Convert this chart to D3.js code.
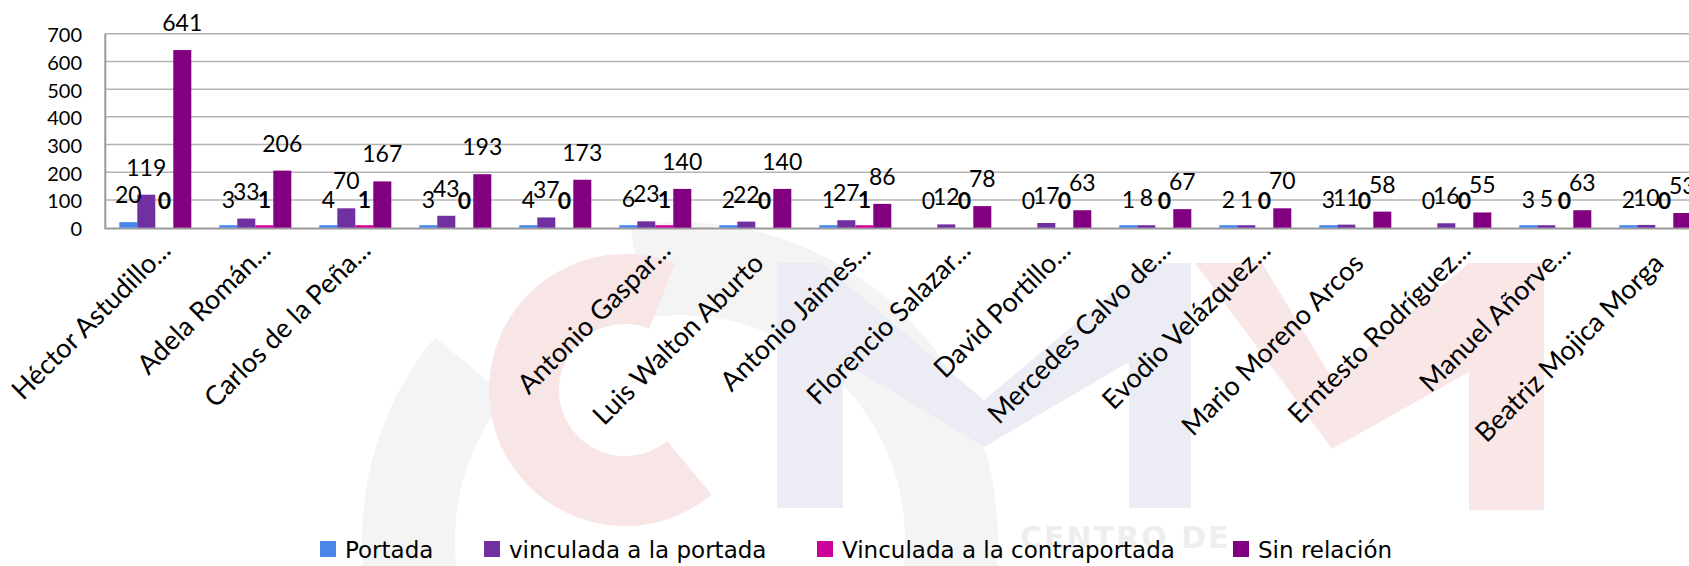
<!DOCTYPE html>
<html>
<head>
<meta charset="utf-8">
<script src="https://cdn.jsdelivr.net/npm/d3@7/dist/d3.min.js"></script>
<style>
  html, body { margin: 0; padding: 0; background: #ffffff; }
  svg { display: block; }
</style>
</head>
<body>
<svg id="chart" width="1689" height="566"></svg>
<script>
// ---- data ----
const categories = [
  "Héctor Astudillo...", "Adela Román...", "Carlos de la Peña...", "", "",
  "Antonio Gaspar...", "Luis Walton Aburto", "Antonio Jaimes...", "Florencio Salazar...",
  "David Portillo...", "Mercedes Calvo de...", "Evodio Velázquez...", "Mario Moreno Arcos",
  "Erntesto Rodríguez...", "Manuel Añorve...", "Beatriz Mojica Morga"
];
const seriesNames = ["Portada", "vinculada a la portada", "Vinculada a la contraportada", "Sin relación"];
const portada          = [20, 3, 4, 3, 4, 6, 2, 1, 0, 0, 1, 2, 3, 0, 3, 2];
const vinculadaPortada = [119, 33, 70, 43, 37, 23, 22, 27, 12, 17, 8, 1, 11, 16, 5, 10];
const vinculadaContra  = [0, 1, 1, 0, 0, 1, 0, 1, 0, 0, 0, 0, 0, 0, 0, 0];
const sinRelacion      = [641, 206, 167, 193, 173, 140, 140, 86, 78, 63, 67, 70, 58, 55, 63, 53];
const yTicks = [0, 100, 200, 300, 400, 500, 600, 700];

const seriesValues = [portada, vinculadaPortada, vinculadaContra, sinRelacion];
const colors = ["#4a86e8", "#7030a0", "#cc0099", "#800080"];

// ---- layout ----
const plot = { left: 105.3, right: 1705.3, top: 33.7, bottom: 227.7 };
const svg = d3.select("#chart");

// ---- faint background watermark (decoration) ----
const wm = svg.append("g").attr("class", "watermark");
const arc = d3.arc();
wm.append("path")
  .attr("transform", "translate(680,540)")
  .attr("d", arc({ innerRadius: 225, outerRadius: 318, startAngle: -Math.PI * 0.05, endAngle: Math.PI * 1.72 }))
  .attr("fill", "#f4f4f4");
wm.append("path")
  .attr("transform", "translate(625,390)")
  .attr("d", arc({ innerRadius: 66, outerRadius: 136, startAngle: Math.PI * 0.78, endAngle: Math.PI * 2.12 }))
  .attr("fill", "#f8e5e5");
wm.append("polygon")
  .attr("points", "777,263 822,263 984,400 1148,263 1191,263 1191,508 1129,508 1129,362 984,447 843,362 843,508 777,508")
  .attr("fill", "#ececf4");
wm.append("polygon")
  .attr("points", "1195,263 1262,263 1332,378 1469,263 1544,263 1544,510 1469,510 1469,372 1332,449")
  .attr("fill", "#f9e7e7");
wm.append("text")
  .attr("x", 1020).attr("y", 548)
  .attr("font-family", "DejaVu Sans").attr("font-weight", "bold").attr("font-size", 30)
  .attr("fill", "#eeeeee").attr("letter-spacing", 2)
  .text("CENTRO DE");

// ---- scales ----
const idx = d3.range(categories.length);
const x0 = d3.scaleBand().domain(idx).range([plot.left, plot.right])
  .paddingInner(0.28).paddingOuter(0.14);
const x1 = d3.scaleBand().domain(d3.range(seriesNames.length)).range([0, x0.bandwidth()]);
const y = d3.scaleLinear().domain([0, 700]).range([plot.bottom, plot.top]);

// ---- gridlines ----
svg.append("g").selectAll("line").data(yTicks.filter(t => t > 0)).join("line")
  .attr("x1", plot.left).attr("x2", plot.right)
  .attr("y1", d => y(d)).attr("y2", d => y(d))
  .attr("stroke", "#b3b3b3").attr("stroke-width", 1.5);

// ---- y axis ----
const yAxis = d3.axisLeft(y).tickValues(yTicks).tickSize(0).tickPadding(0);
const ya = svg.append("g").attr("transform", `translate(82,0)`).call(yAxis);
ya.select(".domain").remove();
ya.selectAll("text")
  .attr("font-family", "Lato").attr("font-size", 20).attr("fill", "#000")
  .attr("dy", "0.4em");

svg.append("line")
  .attr("x1", plot.left).attr("x2", plot.left)
  .attr("y1", plot.top).attr("y2", plot.bottom)
  .attr("stroke", "#999").attr("stroke-width", 2);

// ---- x axis line (under the bars) ----
svg.append("line")
  .attr("x1", plot.left - 1).attr("x2", plot.right)
  .attr("y1", plot.bottom + 0.8).attr("y2", plot.bottom + 0.8)
  .attr("stroke", "#999").attr("stroke-width", 2.2);

// ---- bars ----
const groups = svg.append("g").selectAll("g").data(idx).join("g")
  .attr("transform", i => `translate(${x0(i)},0)`);

const barH = v => v > 0 ? Math.max(y(0) - y(v), 2.5) : 0;
groups.selectAll("rect")
  .data(i => seriesValues.map((arr, s) => ({ s, v: arr[i] })))
  .join("rect")
  .attr("x", d => x1(d.s))
  .attr("width", x1.bandwidth())
  .attr("y", d => y(0) - barH(d.v))
  .attr("height", d => barH(d.v))
  .attr("fill", d => colors[d.s]);

// ---- data labels ----
groups.selectAll("text.lbl")
  .data(i => seriesValues.map((arr, s) => ({ s, v: arr[i] })))
  .join("text")
  .attr("class", "lbl")
  .attr("x", d => x1(d.s) + x1.bandwidth() / 2)
  .attr("y", d => y(d.v) - 19)
  .attr("text-anchor", "middle")
  .attr("font-family", "Lato")
  .attr("font-size", 23)
  .attr("font-weight", d => d.s === 2 ? "bold" : "normal")
  .attr("fill", "#000")
  .text(d => d.v);

// ---- category labels ----
svg.append("g").selectAll("text").data(idx).join("text")
  .attr("transform", i => {
    const cx = x0(i) + x0.bandwidth() / 2;
    const truncated = categories[i].endsWith("...");
    return truncated ? `translate(${cx + 17},252) rotate(-45)` : `translate(${cx + 10},265) rotate(-45)`;
  })
  .attr("text-anchor", "end")
  .attr("font-family", "Lato")
  .attr("font-size", 27)
  .attr("fill", "#000")
  .text(i => categories[i]);

// ---- legend ----
const legendX = [320, 484, 817, 1233];
const lg = svg.append("g").selectAll("g").data(seriesNames).join("g")
  .attr("transform", (d, i) => `translate(${legendX[i]},541)`);
lg.append("rect").attr("width", 16).attr("height", 16).attr("fill", (d, i) => colors[i]);
lg.append("text")
  .attr("x", 25).attr("y", 17)
  .attr("font-family", "DejaVu Sans").attr("font-size", 23).attr("fill", "#000")
  .text(d => d);
</script>
</body>
</html>
